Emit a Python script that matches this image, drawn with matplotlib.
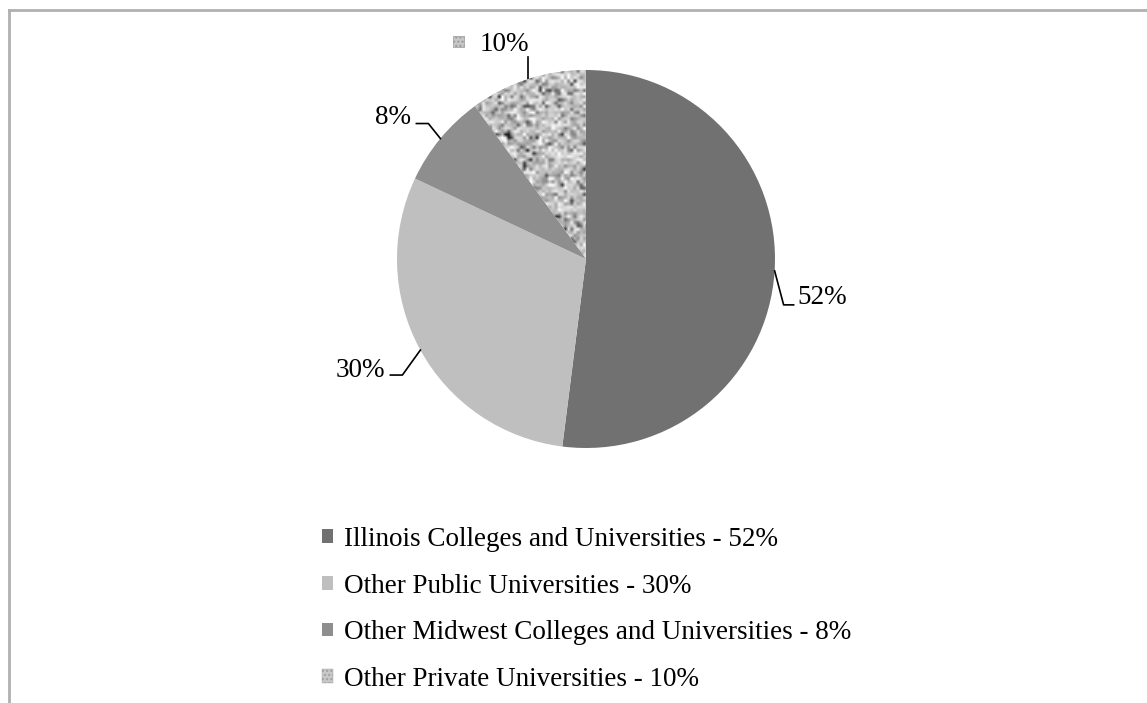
import numpy as np
import matplotlib.pyplot as plt
from matplotlib.patches import Patch, Rectangle
from matplotlib.lines import Line2D

# data
labels = ['Illinois Colleges and Universities', 'Other Public Universities',
          'Other Midwest Colleges and Universities', 'Other Private Universities']
shares = [52, 30, 8, 10]
colors = ['#717171', '#bfbfbf', '#8e8e8e', '#c4c4c4']

plt.rcParams['font.family'] = ['Liberation Serif', 'DejaVu Serif']
FS = 19.5

W, H = 1147, 703
fig = plt.figure(figsize=(W / 100, H / 100), dpi=100)

# pie centre / radius in pixels
cx, cy, r = 586, 259, 189
ax = fig.add_axes([(cx - r) / W, (H - cy - r) / H, 2 * r / W, 2 * r / H])
wedges, _ = ax.pie(shares, colors=colors, startangle=90, counterclock=False,
                   radius=1.0, wedgeprops=dict(linewidth=0))
ax.set_xlim(-1, 1)
ax.set_ylim(-1, 1)
ax.set_aspect('equal')
ax.axis('off')

# speckled texture for the last wedge
rng = np.random.default_rng(3)
tex = rng.normal(0.78, 0.12, (120, 120))
specks = rng.random((120, 120)) < 0.12
tex[specks] -= rng.uniform(0.25, 0.5, specks.sum())
tex = np.clip(tex, 0, 1)
img = ax.imshow(tex, cmap='gray', vmin=0, vmax=1, extent=(-1, 1, -1, 1),
                interpolation='bilinear', zorder=3)
img.set_clip_path(wedges[3])

# data labels with leader lines (offsets in pixels)
px = 1.0 / r
label_layout = [
    # elbow, end, text pos, ha
    ((9, -34), (19, -34), (23, -27), 'left'),
    ((-18, -25), (-30, -25), (-35, -20), 'right'),
    ((-12, 15), (-24, 15), (-29, 21), 'right'),
    ((0, 22), (0, 22), (-23, 35), 'center'),
]
for w, val, (elb, end, tp, ha) in zip(wedges, shares, label_layout):
    mid = np.deg2rad((w.theta1 + w.theta2) / 2)
    x0, y0 = np.cos(mid), np.sin(mid)
    xs = [x0, x0 + elb[0] * px, x0 + end[0] * px]
    ys = [y0, y0 + elb[1] * px, y0 + end[1] * px]
    ax.add_line(Line2D(xs, ys, color='black', lw=1.2, clip_on=False))
    ax.text(x0 + tp[0] * px, y0 + tp[1] * px, f'{val}%', ha=ha, va='center',
            fontsize=FS, clip_on=False)
    if val == 10:
        ax.add_patch(Rectangle((x0 - 75 * px, y0 + 32 * px), 11 * px, 11 * px,
                               facecolor='#c8c8c8', edgecolor='#999999', lw=0.5,
                               hatch='....', clip_on=False))

# legend
handles = []
for lab, val, c in zip(labels, shares, colors):
    if val == 10:
        handles.append(Patch(facecolor='#c8c8c8', edgecolor='#a0a0a0', lw=0.3,
                             hatch='....', label=f'{lab} - {val}%'))
    else:
        handles.append(Patch(facecolor=c, edgecolor='none', label=f'{lab} - {val}%'))
fig.legend(handles=handles, loc='upper left', bbox_to_anchor=(322 / W, 1 - 527 / H),
           frameon=False, fontsize=FS, handlelength=0.4, handleheight=0.4,
           handletextpad=0.4, labelspacing=0.8, borderpad=0, borderaxespad=0)

# chart border (top and left only visible)
fig.add_artist(Line2D([9 / W, 1], [1 - 10 / H, 1 - 10 / H], color='#b0b0b0', lw=2))
fig.add_artist(Line2D([9 / W, 9 / W], [0, 1 - 10 / H], color='#b0b0b0', lw=2))

fig.savefig('out.png', dpi=100)
